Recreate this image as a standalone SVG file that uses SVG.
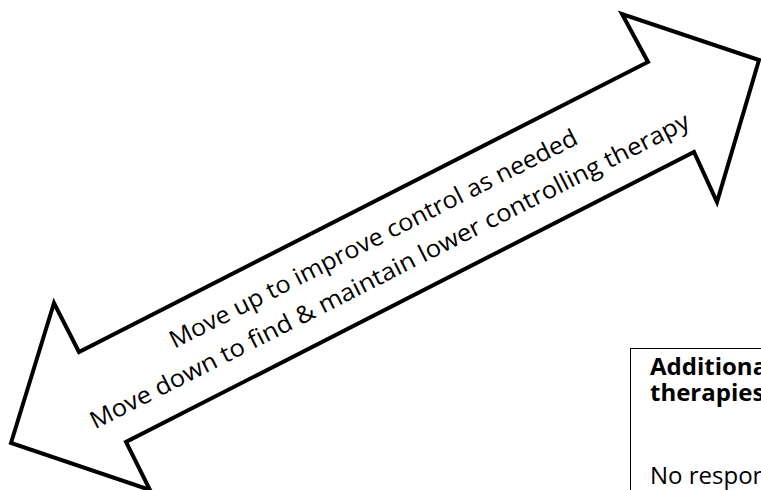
<svg xmlns="http://www.w3.org/2000/svg" width="761" height="490" viewBox="0 0 761 490">
<style>
.arrow{fill:#fff;stroke:#000;stroke-width:4;stroke-linejoin:miter;stroke-miterlimit:10}
.lbl{font-family:"Open Sans","Noto Sans",sans-serif;font-size:24px;fill:#000}
.box{fill:#fff;stroke:#000;stroke-width:1}
.bt{font-family:"Open Sans","Noto Sans",sans-serif;font-size:24px;fill:#000}
.b{font-weight:bold}
</style>
<rect width="761" height="490" fill="#fff"/>
<g id="arrow">
<polygon class="arrow" points="11,443 54,303 79,352 648,62 622,14 759,60 717,202 694,152 126,442 150,490"/>
<g transform="rotate(-26.9 377 246)">
<text class="lbl" x="377" y="246" text-anchor="middle" textLength="454" lengthAdjust="spacingAndGlyphs">Move up to improve control as needed</text>
<text class="lbl" x="377" y="282" text-anchor="middle" textLength="669" lengthAdjust="spacingAndGlyphs">Move down to find &amp; maintain lower  controlling therapy</text>
</g>
</g>
<g id="box">
<rect class="box" x="630.5" y="348.5" width="200" height="200"/>
<text class="bt b" x="650" y="375">Additional</text>
<text class="bt b" x="650" y="401">therapies</text>
<text class="bt" x="650" y="484">No respon</text>
</g>
</svg>
